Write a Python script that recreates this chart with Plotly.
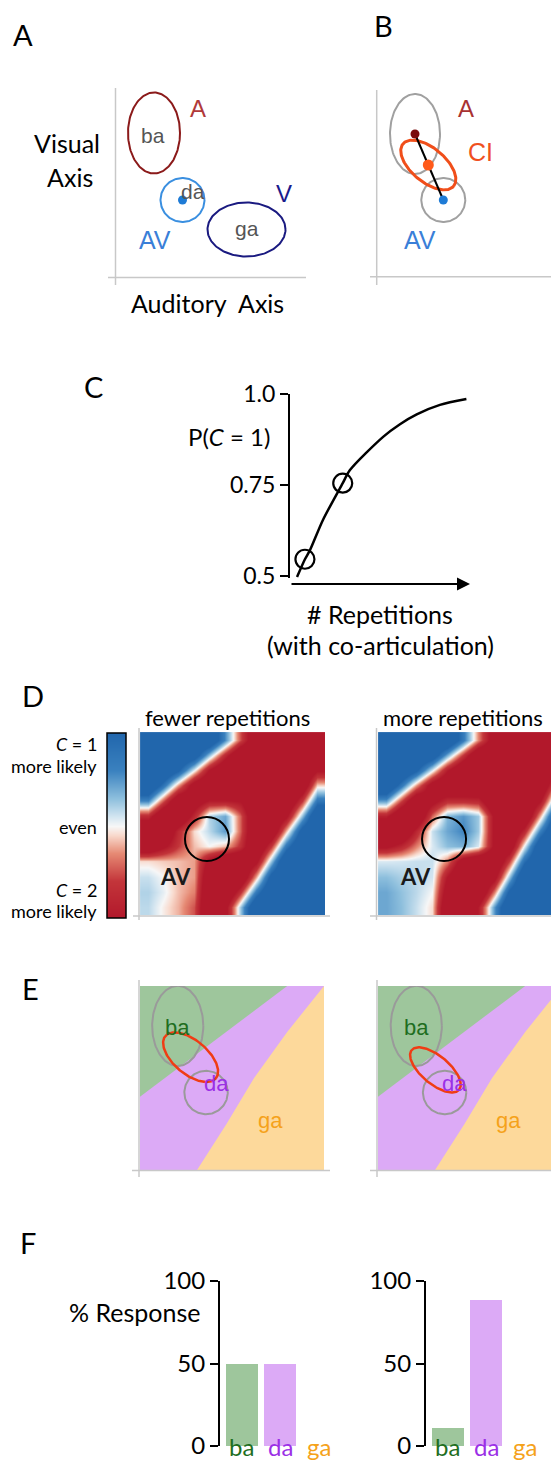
import numpy as np
import plotly.graph_objects as go

W, H = 559, 1479
LATO = "Lato"
ARIAL = "Liberation Sans"
PAGE_OFFSET = 8  # the page body adds an 8 px margin around the figure


def fx(px):
    return (px - PAGE_OFFSET) / W


def fy(py):
    return 1 - (py - PAGE_OFFSET) / H


# ---------------- DATA ----------------
# Panel A : unimodal cue distributions (schematic units)
A_labels = ["ba", "da", "ga"]
A_cx = [39, 67.5, 131.5]
A_cy = [144, 77, 47.5]
A_rx = [26, 22, 39]
A_ry = [40.5, 22, 27]

# Panel B : causal-inference combination (schematic units)
B_a_mean = [38, 143]
B_a_sd = [25, 40]
B_av_mean = [66.3, 77]
B_av_sd = [22, 22]
B_ci_mean = [51.3, 112]
B_ci_sd = [33, 17]
B_ci_angle = -40

# Panel C : P(C=1) vs repetitions
C_reps = [0.039, 0.083, 0.111, 0.183, 0.293, 0.333, 0.519, 0.611, 0.704, 0.833, 0.98]
C_prob = [0.497, 0.546, 0.571, 0.654, 0.755, 0.791, 0.883, 0.917, 0.944, 0.970, 0.986]
C_mark_reps = [0.083, 0.293]
C_mark_prob = [0.546, 0.755]
C_ticks = [0.5, 0.75, 1.0]
C_ticktext = ["0.5", "0.75", "1.0"]

# Panel D : causal-inference maps (+ = C=1 more likely, - = C=2 more likely)
HM_GRID = [0.042, 0.125, 0.208, 0.292, 0.375, 0.458, 0.542, 0.625, 0.708, 0.792, 0.875, 0.958]
D_fewer_rows_top_down = [
    [1, 1, 1, 1, 0.95, 0.32, -0.30, -0.93, -1, -1, -1, -1],
    [1, 1, 1, 0.80, 0.17, -0.46, -1, -1, -1, -1, -1, -1],
    [1, 1, 0.64, 0.02, -0.61, -1, -1, -1, -1, -1, -1, -0.63],
    [1, 0.48, -0.15, -0.77, -1, -1, -1, -1, -1, -1, -0.91, -0.07],
    [0.33, -0.30, -0.93, -0.8, -0.55, -0.55, -0.6, -1, -1, -1, -0.36, 0.47],
    [-0.45, -1, -1, -0.46, 0.12, 0.25, -0.26, -1, -1, -0.65, 0.18, 1],
    [-1, -1, -0.45, -0.05, 0.1, 0.28, -0.26, -1, -0.93, -0.10, 0.74, 1],
    [-0.98, -0.66, -0.36, -0.1, 0.0, -0.1, -0.4, -1, -0.38, 0.45, 1, 1],
    [-0.05, -0.08, -0.1, -0.15, -0.7, -1, -1, -0.67, 0.16, 1, 1, 1],
    [0.08, 0.0, -0.1, -0.15, -0.92, -1, -0.96, -0.12, 0.72, 1, 1, 1],
    [0.12, 0.03, -0.1, -0.2, -1, -1, -0.41, 0.43, 1, 1, 1, 1],
    [0.1, -0.02, -0.12, -0.3, -1, -0.69, 0.14, 1, 1, 1, 1, 1],
]
D_more_rows_top_down = [
    [1, 1, 1, 1, 1, 0.41, -0.19, -0.80, -1, -1, -1, -1],
    [1, 1, 1, 0.83, 0.23, -0.38, -0.98, -1, -1, -1, -1, -1],
    [1, 1, 0.65, 0.04, -0.56, -1, -1, -1, -1, -1, -1, -0.76],
    [1, 0.45, -0.15, -0.76, -1, -1, -1, -1, -1, -1, -1, -0.25],
    [0.26, -0.34, -0.95, -0.7, -0.42, -0.42, -0.45, -1, -1, -1, -0.61, 0.25],
    [-0.53, -1, -1, -0.25, 0.2, 0.3, 0.15, -0.66, -1, -0.98, -0.11, 0.75],
    [-1, -1, -0.48, 0.08, 0.25, 0.35, 0.15, -0.66, -1, -0.47, 0.39, 1],
    [-0.66, -0.48, -0.2, 0.05, 0.18, 0.22, 0.05, -0.66, -0.85, 0.02, 0.89, 1],
    [0.05, 0.06, 0.08, 0.08, -0.2, -0.8, -1, -1, -0.35, 0.52, 1, 1],
    [0.18, 0.13, 0.1, 0.06, -0.6, -1, -1, -0.71, 0.16, 1, 1, 1],
    [0.25, 0.17, 0.1, 0.0, -0.78, -1, -1, -0.21, 0.66, 1, 1, 1],
    [0.25, 0.18, 0.08, -0.05, -0.96, -1, -0.57, 0.29, 1, 1, 1, 1],
]
D_av_center = [[0.362, 0.415], [0.357, 0.415]]
D_av_radius = [0.119, 0.12]
CB_LEVELS = [-0.6, -0.4, -0.2, 0.0, 0.2, 0.4, 0.6]

# Panel E : category decision regions
E_green_u = [0, 0.80, 0]
E_green_v = [1, 1, 0.398]
E_ga_u = [0.31, 0.47, 0.62, 0.80, 1.0, 1.0]
E_ga_v = [0.0, 0.25, 0.5, 0.75, 1.0, 0.0]
E_ba_mean = [[0.205, 0.783], [0.208, 0.783]]
E_ba_sd = [0.139, 0.218]
E_da_mean = [[0.359, 0.421], [0.362, 0.421]]
E_da_sd = 0.118
E_ci_mean = [[0.275, 0.613], [0.312, 0.544]]
E_ci_sd = [[0.179, 0.092], [0.168, 0.076]]
E_ci_angle = -40

# Panel F : response percentages
F_cats = ["ba", "da", "ga"]
F_fewer = [50, 49.5, 0]
F_more = [11, 88.5, 0]
F_ticks = [0, 50, 100]

# ---------------- STYLE ----------------
GREEN_FILL = "#9ec69c"
PURPLE_FILL = "#dcaaf6"
ORANGE_FILL = "#fdd99b"
CAT_TEXT = {"ba": "#1f6e1f", "da": "#9b30e6", "ga": "#f5a21b"}
GRAY_AX = "#c8c8c8"
RDBU = [[0, "#b2182b"], [0.2, "#c3353a"], [0.35, "#e68a74"], [0.45, "#f8d9cc"],
        [0.5, "#f7f7f7"], [0.55, "#d4e6f1"], [0.65, "#8dbfdd"], [0.8, "#3a81bf"],
        [1, "#2166ac"]]


def ellipse_xy(cx, cy, a, b, ang=0.0, n=160):
    t = np.linspace(0, 2 * np.pi, n)
    c, s = np.cos(np.radians(ang)), np.sin(np.radians(ang))
    x = cx + a * np.cos(t) * c - b * np.sin(t) * s
    y = cy + a * np.cos(t) * s + b * np.sin(t) * c
    return x, y


fig = go.Figure()
annotations = []
shapes = []


def ann(text, x, y, size, color="black", family=LATO, xref="paper", yref="paper",
        xanchor="center", yanchor="middle"):
    if xref == "paper":
        x = fx(x)
    if yref == "paper":
        y = fy(y)
    annotations.append(dict(text=text, x=x, y=y, xref=xref, yref=yref, showarrow=False,
                            xanchor=xanchor, yanchor=yanchor,
                            font=dict(size=size, color=color, family=family)))


def pline(x0, y0, x1, y1, color=GRAY_AX, width=1.5):
    shapes.append(dict(type="line", xref="paper", yref="paper", x0=fx(x0), y0=fy(y0),
                       x1=fx(x1), y1=fy(y1), line=dict(color=color, width=width)))


def line_trace(x, y, color, width, xa, ya):
    fig.add_trace(go.Scatter(x=x, y=y, mode="lines", line=dict(color=color, width=width),
                             xaxis=xa, yaxis=ya, hoverinfo="skip", showlegend=False))


def dot(x, y, color, size, xa, ya):
    fig.add_trace(go.Scatter(x=[x], y=[y], mode="markers",
                             marker=dict(color=color, size=size),
                             xaxis=xa, yaxis=ya, hoverinfo="skip", showlegend=False))


# ---------------- Panel A ----------------
A_colors = ["#8b1a1a", "#3a8fe0", "#1a1a80"]
for i in range(3):
    x, y = ellipse_xy(A_cx[i], A_cy[i], A_rx[i], A_ry[i])
    line_trace(x, y, A_colors[i], 2, "x", "y")
dot(A_cx[1], A_cy[1], "#1e7bd6", 9, "x", "y")
ann("ba", A_cx[0] - 1, A_cy[0] - 2, 21, "#555555", ARIAL, "x", "y")
ann("da", A_cx[1] + 10, A_cy[1] + 9, 21, "#555555", ARIAL, "x", "y")
ann("ga", A_cx[2], A_cy[2] + 1, 21, "#555555", ARIAL, "x", "y")
ann("A", 83, 169, 24, "#b0393a", ARIAL, "x", "y")
ann("V", 169, 84, 24, "#1a1a8c", ARIAL, "x", "y")
ann("AV", 40, 37, 25, "#3a7fd8", ARIAL, "x", "y")
ann("Visual", 67, 143, 25)
ann("Axis", 70, 177, 25)
ann("Auditory\u00a0 Axis", 207, 303, 25)
pline(115.5, 88, 115.5, 285)
pline(108, 277.5, 306, 277.5)

# ---------------- Panel B ----------------
x, y = ellipse_xy(B_a_mean[0], B_a_mean[1], B_a_sd[0], B_a_sd[1])
line_trace(x, y, "#a0a0a0", 2, "x2", "y2")
x, y = ellipse_xy(B_av_mean[0], B_av_mean[1], B_av_sd[0], B_av_sd[1])
line_trace(x, y, "#a0a0a0", 2, "x2", "y2")
x, y = ellipse_xy(B_ci_mean[0], B_ci_mean[1], B_ci_sd[0], B_ci_sd[1], B_ci_angle)
line_trace(x, y, "#f04e1a", 3, "x2", "y2")
line_trace([B_a_mean[0], B_av_mean[0]], [B_a_mean[1], B_av_mean[1]], "black", 2, "x2", "y2")
dot(B_a_mean[0], B_a_mean[1], "#7a0a0a", 9, "x2", "y2")
dot(B_ci_mean[0], B_ci_mean[1], "#ff5a1a", 11, "x2", "y2")
dot(B_av_mean[0], B_av_mean[1], "#1e7bd6", 9, "x2", "y2")
ann("A", 89, 169, 24, "#a83232", ARIAL, "x2", "y2")
ann("CI", 103, 125, 25, "#f0501e", ARIAL, "x2", "y2")
ann("AV", 43, 37, 25, "#3a7fd8", ARIAL, "x2", "y2")
pline(376.7, 90, 376.7, 285)
pline(370, 276.7, 566, 276.7)

# ---------------- Panel C ----------------
fig.add_trace(go.Scatter(x=C_reps, y=C_prob, mode="lines",
                         line=dict(color="black", width=2.5, shape="spline", smoothing=0.8),
                         xaxis="x3", yaxis="y3", hoverinfo="skip", showlegend=False, cliponaxis=False))
fig.add_trace(go.Scatter(x=C_mark_reps, y=C_mark_prob, mode="markers",
                         marker=dict(symbol="circle-open", size=19, color="black", line=dict(width=2.2)),
                         xaxis="x3", yaxis="y3", hoverinfo="skip", showlegend=False, cliponaxis=False))
annotations.append(dict(text="", x=fx(470), y=fy(584), xref="paper", yref="paper", ax=-180, ay=0,
                        showarrow=True, arrowhead=2, arrowsize=1.3, arrowwidth=2, arrowcolor="black"))
ann("P(<i>C</i> = 1)", 272, 437, 24, xanchor="right")
ann("# Repetitions", 380, 614, 25)
ann("(with co-articulation)", 380, 645, 25)

# ---------------- Panel D ----------------
fig.add_trace(go.Heatmap(x=HM_GRID, y=HM_GRID, z=D_fewer_rows_top_down[::-1], zsmooth="best",
                         coloraxis="coloraxis", xaxis="x4", yaxis="y4", hoverinfo="skip"))
fig.add_trace(go.Heatmap(x=HM_GRID, y=HM_GRID, z=D_more_rows_top_down[::-1], zsmooth="best",
                         coloraxis="coloraxis", xaxis="x5", yaxis="y5", hoverinfo="skip"))
# colour bar drawn as its own small heatmap
fig.add_trace(go.Heatmap(x=[0, 1], y=CB_LEVELS, z=[[v, v] for v in CB_LEVELS], zsmooth="best",
                         coloraxis="coloraxis", xaxis="x10", yaxis="y10", hoverinfo="skip"))
shapes.append(dict(type="rect", xref="paper", yref="paper", x0=fx(107), x1=fx(126),
                   y0=fy(918), y1=fy(733), line=dict(color="black", width=1.5)))
for k, (xa, ya) in enumerate([("x4", "y4"), ("x5", "y5")]):
    cx, cy = D_av_center[k]
    shapes.append(dict(type="circle", xref=xa, yref=ya, x0=cx - D_av_radius[0], x1=cx + D_av_radius[0],
                       y0=cy - D_av_radius[1], y1=cy + D_av_radius[1], line=dict(color="black", width=2)))
ann("<b>AV</b>", 0.19, 0.208, 22, "#1a1a1a", LATO, "x4", "y4")
ann("<b>AV</b>", 0.205, 0.208, 22, "#1a1a1a", LATO, "x5", "y5")
ann("fewer repetitions", 227, 717, 22)
ann("more repetitions", 463, 717, 22)
ann("<i>C</i> = 1", 99, 744, 18, xanchor="right")
ann("more likely", 99, 766, 18, xanchor="right")
ann("even", 99, 827, 18, xanchor="right")
ann("<i>C</i> = 2", 99, 890, 18, xanchor="right")
ann("more likely", 99, 911, 18, xanchor="right")
pline(139, 728, 139, 920)
pline(133, 916, 330, 916)
pline(376.5, 728, 376.5, 920)
pline(370, 916, 566, 916)

# ---------------- Panel E ----------------
for k, (xa, ya) in enumerate([("x6", "y6"), ("x7", "y7")]):
    fig.add_trace(go.Scatter(x=[0, 1, 1, 0], y=[0, 0, 1, 1], fill="toself", fillcolor=PURPLE_FILL,
                             mode="lines", line=dict(width=0), xaxis=xa, yaxis=ya,
                             hoverinfo="skip", showlegend=False))
    fig.add_trace(go.Scatter(x=E_green_u, y=E_green_v, fill="toself", fillcolor=GREEN_FILL,
                             mode="lines", line=dict(width=0), xaxis=xa, yaxis=ya,
                             hoverinfo="skip", showlegend=False))
    fig.add_trace(go.Scatter(x=E_ga_u, y=E_ga_v, fill="toself", fillcolor=ORANGE_FILL,
                             mode="lines", line=dict(width=0), xaxis=xa, yaxis=ya,
                             hoverinfo="skip", showlegend=False))
    x, y = ellipse_xy(E_ba_mean[k][0], E_ba_mean[k][1], E_ba_sd[0], E_ba_sd[1])
    line_trace(x, y, "#9a9a9a", 2, xa, ya)
    x, y = ellipse_xy(E_da_mean[k][0], E_da_mean[k][1], E_da_sd, E_da_sd)
    line_trace(x, y, "#9a9a9a", 2, xa, ya)
    x, y = ellipse_xy(E_ci_mean[k][0], E_ci_mean[k][1], E_ci_sd[k][0], E_ci_sd[k][1], E_ci_angle)
    line_trace(x, y, "#f03c14", 2.5, xa, ya)
    ann("ba", E_ba_mean[k][0], 0.774, 22, "#1f6e1f", ARIAL, xa, ya)
    ann("da", E_da_mean[k][0] + 0.055, 0.47, 22, "#9b30e6", ARIAL, xa, ya)
    ann("ga", 0.708, 0.271, 22, "#f5a21b", ARIAL, xa, ya)
pline(139, 980, 139, 1177)
pline(132, 1170.5, 330, 1170.5)
pline(377, 980, 377, 1177)
pline(370, 1170.5, 566, 1170.5)

# ---------------- Panel F ----------------
for vals, xa, ya in [(F_fewer, "x8", "y8"), (F_more, "x9", "y9")]:
    fig.add_trace(go.Bar(x=F_cats, y=vals, width=0.83,
                         marker=dict(color=[GREEN_FILL, PURPLE_FILL, ORANGE_FILL], line=dict(width=0)),
                         xaxis=xa, yaxis=ya, hoverinfo="skip", showlegend=False))
    for c in F_cats:
        annotations.append(dict(text=c, x=c, y=fy(1463), xref=xa, yref="paper", showarrow=False,
                                font=dict(size=24, color=CAT_TEXT[c], family=LATO)))
ann("% Response", 202, 1312, 25, xanchor="right")

# ---------------- Panel letters ----------------
for letter, (px_, py_) in {"A": (23, 35), "B": (383, 26), "C": (93, 386), "D": (33, 695),
                           "E": (30, 988), "F": (28, 1242)}.items():
    ann(letter, px_, py_, 29)

# ---------------- Axes ----------------
hidden = dict(visible=False, fixedrange=True)
layout_axes = {}


def set_axes(xn, yn, xdom, ydom, xr, yr):
    layout_axes["xaxis" + xn] = dict(hidden, domain=xdom, range=xr, anchor="y" + yn)
    layout_axes["yaxis" + yn] = dict(hidden, domain=ydom, range=yr, anchor="x" + xn)


set_axes("", "", [fx(115), fx(306)], [fy(277), fy(88)], [0, 191], [0, 189])
set_axes("2", "2", [fx(377), fx(559)], [fy(277), fy(88)], [0, 182], [0, 189])
set_axes("3", "3", [fx(290), fx(470)], [fy(578), fy(394)], [0, 1], [0.4945, 1.0])
layout_axes["yaxis3"] = dict(domain=[fy(578), fy(394)], range=[0.4945, 1.0], anchor="x3",
                             showline=True, linecolor="black", linewidth=2, ticks="outside",
                             ticklen=8, tickwidth=2, tickcolor="black", tickvals=C_ticks,
                             ticktext=C_ticktext, showgrid=False, zeroline=False,
                             tickfont=dict(family=LATO, size=23, color="black"))
set_axes("4", "4", [fx(140), fx(325)], [fy(915), fy(732)], [0, 1], [0, 1])
set_axes("5", "5", [fx(378), fx(563)], [fy(915), fy(732)], [0, 1], [0, 1])
set_axes("6", "6", [fx(140), fx(324)], [fy(1170), fy(986)], [0, 1], [0, 1])
set_axes("7", "7", [fx(378), fx(562)], [fy(1170), fy(986)], [0, 1], [0, 1])
set_axes("10", "10", [fx(107), fx(126)], [fy(918), fy(733)], [-0.5, 1.5], [-0.6, 0.6])
for xn, x0 in [("8", 220), ("9", 426)]:
    layout_axes["xaxis" + xn] = dict(domain=[fx(x0), fx(x0 + 118)], range=[-0.57, 2.5], anchor="y" + xn,
                                     type="category", showticklabels=False, showline=False,
                                     showgrid=False, zeroline=False, ticks="")
    layout_axes["yaxis" + xn] = dict(domain=[fy(1446), fy(1281)], range=[0, 100], anchor="x" + xn,
                                     showline=True, linecolor="black", linewidth=2, ticks="outside",
                                     ticklen=8, tickwidth=2, tickcolor="black", tickvals=F_ticks,
                                     showgrid=False, zeroline=False,
                                     tickfont=dict(family=LATO, size=24, color="black"))

fig.update_layout(
    width=W, height=H, margin=dict(l=0, r=0, t=0, b=0, autoexpand=False),
    paper_bgcolor="white", plot_bgcolor="rgba(0,0,0,0)",
    showlegend=False, annotations=annotations, shapes=shapes,
    coloraxis=dict(colorscale=RDBU, cmin=-0.6, cmax=0.6, showscale=False),
    bargap=0,
    **layout_axes,
)

fig.write_html("out.html")
